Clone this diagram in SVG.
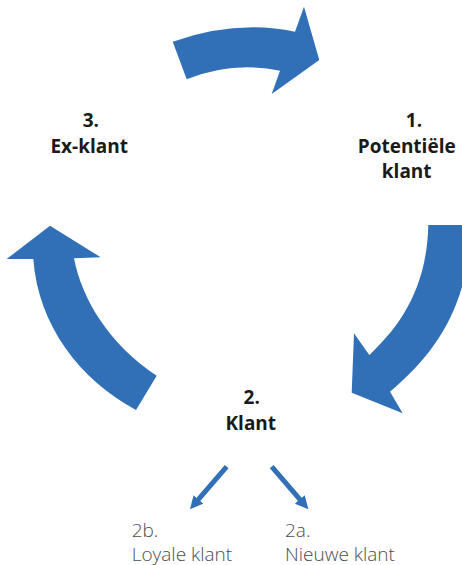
<svg xmlns="http://www.w3.org/2000/svg" width="462" height="565" viewBox="0 0 462 565">
  <style>
    .cycle { fill: #3170B7; }
    .title { font-family: "Open Sans", "Liberation Sans", sans-serif; font-weight: 700; font-size: 19px; fill: #1a1a1a; text-anchor: middle; }
    .sub { font-family: "Open Sans", "Liberation Sans", sans-serif; font-weight: 300; font-size: 19px; fill: #4d4d4d; }
    .branch { stroke: #3170B7; stroke-width: 5; fill: none; marker-end: url(#head); }
  </style>
  <defs>
    <marker id="head" viewBox="0 0 10 10" refX="3.85" refY="5" markerWidth="2.6" markerHeight="2.6" orient="auto" markerUnits="strokeWidth">
      <path d="M0,0 L10,5 L0,10 Z" fill="#3170B7"/>
    </marker>
  </defs>

  <rect width="462" height="565" fill="#ffffff"/>

  <g id="connectors">
    <!-- 1 -> 2 -> 3 -> 1 cycle arrows -->
    <path id="arrow-top" class="cycle" d="M172.7,41.7 Q236,19.3 295,31.7 L304,6.7 L319.3,60 L271.7,94 L280,70.7 Q232.6,61 186.7,79.3 Z"/>
    <path id="arrow-right" class="cycle" d="M428.3,225 L470,225 C470,300 440,350 390,391.7 L402.7,413.3 L351.7,392.7 L354,333.3 L369.3,355 C398,328 427,290 428.3,225 Z"/>
    <path id="arrow-left" class="cycle" d="M50,225.7 L100.7,257.3 L74,258.3 C82,300 110,345 156.7,375.7 L136,410 C80,380 38,325 33.3,259 L6.7,259 Z"/>
    <!-- branches from Klant -->
    <line class="branch" x1="226.7" y1="466.7" x2="195.2" y2="503.2"/>
    <line class="branch" x1="271.7" y1="466.7" x2="303.1" y2="503.2"/>
  </g>

  <g id="node-1">
    <text class="title" x="414" y="126.7">1.</text>
    <text class="title" x="406.7" y="152.7">Potentiële</text>
    <text class="title" x="406.7" y="178.3">klant</text>
  </g>

  <g id="node-2">
    <text class="title" x="251.7" y="404.3">2.</text>
    <text class="title" x="250.8" y="430">Klant</text>
  </g>

  <g id="node-3">
    <text class="title" x="90.8" y="126.7">3.</text>
    <text class="title" x="89.2" y="153.3">Ex-klant</text>
  </g>

  <g id="node-2b">
    <text class="sub" x="131.7" y="537">2b.</text>
    <text class="sub" x="131.7" y="560.5">Loyale klant</text>
  </g>

  <g id="node-2a">
    <text class="sub" x="285" y="537">2a.</text>
    <text class="sub" x="285" y="560.5">Nieuwe klant</text>
  </g>
</svg>
